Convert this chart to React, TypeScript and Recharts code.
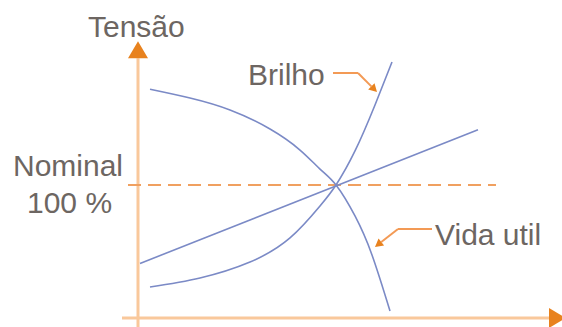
import { LineChart, Line, XAxis, YAxis, ReferenceLine } from "recharts";

// Tensão em % do nominal (y) contra um eixo horizontal sem unidade (x)
const vidaUtil = [
  { x: 3, y: 172 },
  { x: 13, y: 165.4 },
  { x: 23, y: 156.4 },
  { x: 33, y: 142.1 },
  { x: 40.5, y: 126.3 },
  { x: 45.5, y: 112 },
  { x: 49.5, y: 100 },
  { x: 54.25, y: 76.7 },
  { x: 58.5, y: 47.4 },
  { x: 63, y: 5.3 },
];

const brilho = [
  { x: 3, y: 23.3 },
  { x: 15.5, y: 30.1 },
  { x: 28, y: 42.1 },
  { x: 38, y: 60.2 },
  { x: 45.5, y: 84.2 },
  { x: 49.5, y: 100 },
  { x: 54.25, y: 125.6 },
  { x: 59.25, y: 160.2 },
  { x: 63.5, y: 192.5 },
];

const linear = [
  { x: 0.5, y: 41 },
  { x: 85, y: 141.5 },
];

const NOMINAL = 100;

const AXIS = "#f9c89b";
const ARROW = "#e8821e";
const CURVE = "#7b8ac6";
const TEXT = "#6d6662";

const arrowShape =
  (lineColor: string, headColor: string, width: number, len: number, half: number) =>
  (p: any) => {
    const { x1, y1, x2, y2 } = p;
    const dx = x2 - x1;
    const dy = y2 - y1;
    const d = Math.hypot(dx, dy) || 1;
    const ux = dx / d;
    const uy = dy / d;
    const bx = x2 - ux * len;
    const by = y2 - uy * len;
    const pts = `${x2},${y2} ${bx - uy * half},${by + ux * half} ${bx + uy * half},${by - ux * half}`;
    return (
      <g>
        <line x1={x1} y1={y1} x2={bx} y2={by} stroke={lineColor} strokeWidth={width} />
        <polygon points={pts} fill={headColor} />
      </g>
    );
  };

const font = { fontFamily: "Liberation Sans, Arial, sans-serif", fontSize: 30, fill: TEXT };

export default function App() {
  return (
    <div style={{ position: "absolute", left: 0, top: 0, background: "#fff" }}>
      <LineChart
        width={562}
        height={327}
        margin={{ top: 52, right: 24, left: 138, bottom: 9 }}
      >
        <XAxis type="number" dataKey="x" domain={[0, 100]} hide />
        <YAxis type="number" dataKey="y" domain={[0, 200]} hide />

        <ReferenceLine
          ifOverflow="visible"
          segment={[{ x: 0, y: -7 }, { x: 0, y: 208 }]}
          shape={arrowShape(AXIS, ARROW, 3, 17, 10)}
        />
        <ReferenceLine
          ifOverflow="visible"
          segment={[{ x: -4, y: 0 }, { x: 107, y: 0 }]}
          shape={arrowShape(AXIS, ARROW, 3, 17, 10)}
        />
        <ReferenceLine
          ifOverflow="visible"
          segment={[{ x: -2.5, y: NOMINAL }, { x: 89.5, y: NOMINAL }]}
          stroke="#f0a060"
          strokeWidth={2}
          strokeDasharray="13 7"
        />

        <Line data={vidaUtil} dataKey="y" type="natural" stroke={CURVE} strokeWidth={1.6} dot={false} isAnimationActive={false} />
        <Line data={brilho} dataKey="y" type="natural" stroke={CURVE} strokeWidth={1.6} dot={false} isAnimationActive={false} />
        <Line data={linear} dataKey="y" type="linear" stroke={CURVE} strokeWidth={1.6} dot={false} isAnimationActive={false} />

        {/* setas das legendas */}
        <ReferenceLine
          ifOverflow="visible"
          segment={[{ x: 48.75, y: 184.2 }, { x: 55, y: 184.2 }]}
          stroke="#f39a55"
          strokeWidth={2}
        />
        <ReferenceLine
          ifOverflow="visible"
          segment={[{ x: 55, y: 184.2 }, { x: 59.75, y: 169.9 }]}
          shape={arrowShape("#f39a55", ARROW, 2, 8, 4.5)}
        />
        <ReferenceLine
          ifOverflow="visible"
          segment={[{ x: 73.5, y: 66.9 }, { x: 65, y: 66.9 }]}
          stroke="#f39a55"
          strokeWidth={2}
        />
        <ReferenceLine
          ifOverflow="visible"
          segment={[{ x: 65, y: 66.9 }, { x: 59.25, y: 53.4 }]}
          shape={arrowShape("#f39a55", ARROW, 2, 8, 4.5)}
        />

        <text x={88} y={37} {...font}>Tensão</text>
        <text x={13} y={176} {...font}>Nominal</text>
        <text x={27} y={213} {...font}>100 %</text>
        <text x={248} y={85} {...font}>Brilho</text>
        <text x={435} y={245} {...font}>Vida util</text>
      </LineChart>
    </div>
  );
}
